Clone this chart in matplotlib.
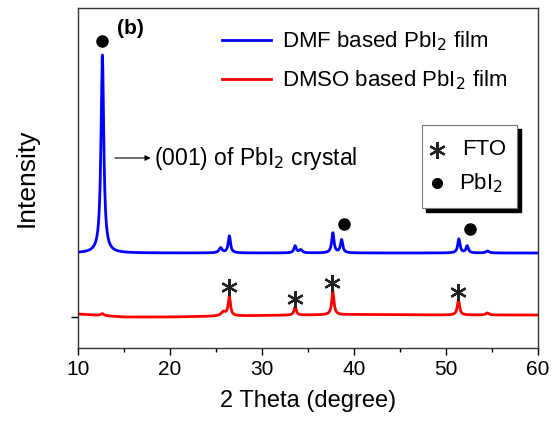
import numpy as np
import matplotlib
matplotlib.use("Agg")
import matplotlib.pyplot as plt
from matplotlib.patches import Rectangle

plt.rcParams['font.family'] = ['Liberation Sans', 'DejaVu Sans']

# Peak tables: (2theta position, height above baseline, half width)
dmf_peaks_pos = [12.65, 25.5, 26.45, 33.6, 34.2, 37.7, 38.65, 51.4, 52.3, 54.5]
dmf_peaks_h = [198, 5, 17, 7, 3, 20, 13, 14, 7, 2]
dmf_peaks_w = [0.18, 0.2, 0.15, 0.15, 0.2, 0.15, 0.15, 0.15, 0.15, 0.2]
dmf_offset = 95

dmso_peaks_pos = [12.65, 25.8, 26.45, 33.6, 37.7, 51.35, 54.5]
dmso_peaks_h = [2, 4, 19, 8, 23, 15, 2]
dmso_peaks_w = [0.2, 0.3, 0.15, 0.15, 0.15, 0.15, 0.2]
dmso_offset = 31

# Baseline levels read along 2theta for the DMSO curve
dmso_base_x = [10, 15, 20, 30, 40, 50, 60]
dmso_base_y = [3, 0, 0, 1.5, 2.5, 2, 2]

# Marker positions
fto_x = [26.4, 33.6, 37.6, 51.3]
fto_y = [61, 49, 65, 56]
pbi2_x = [12.65, 38.9, 52.6]
pbi2_y = [307, 124, 119]


def pattern(x, pos, h, w):
    y = np.zeros_like(x)
    for p, a, s in zip(pos, h, w):
        y += a / (1 + ((x - p) / s) ** 2)
    return y


x = np.linspace(10, 60, 3000)
dmf = dmf_offset + pattern(x, dmf_peaks_pos, dmf_peaks_h, dmf_peaks_w)
dmso = dmso_offset + np.interp(x, dmso_base_x, dmso_base_y) + \
    pattern(x, dmso_peaks_pos, dmso_peaks_h, dmso_peaks_w)

fig = plt.figure(figsize=(5.52, 4.23), dpi=100)
ax = fig.add_axes([78 / 552, 1 - 348 / 423, 460 / 552, 340 / 423])

ax.plot(x, dmf, color='#0000ff', lw=2, label='DMF based PbI$_2$ film')
ax.plot(x, dmso, color='#ff0000', lw=2, label='DMSO based PbI$_2$ film')

ax.plot(fto_x, fto_y, linestyle='none', marker=(6, 2, 0), ms=12,
        mew=1.6, color='#222222')
ax.plot(pbi2_x, pbi2_y, linestyle='none', marker='o', ms=8, color='black')

ax.set_xlim(10, 60)
ax.set_ylim(0, 340)
ax.set_xticks(range(10, 61, 10))
ax.set_xticks(range(15, 60, 10), minor=True)
ax.set_yticks([31])
ax.set_yticklabels([''])
ax.tick_params(axis='both', which='major', direction='out', length=5,
               labelsize=15, width=1)
ax.tick_params(axis='x', which='minor', direction='out', length=3, width=1)
for sp in ax.spines.values():
    sp.set_linewidth(1)
    sp.set_color('#333333')

ax.set_xlabel('2 Theta (degree)', fontsize=17, labelpad=8)
ax.set_ylabel('Intensity', fontsize=19, labelpad=20)

ax.text(0.085, 0.94, '(b)', transform=ax.transAxes, fontsize=15,
        fontweight='bold', va='center', ha='left')

leg = ax.legend(loc='upper left', bbox_to_anchor=(0.27, 0.995), frameon=False,
                fontsize=16, handlelength=2.2, handletextpad=0.5,
                labelspacing=0.68)

# Arrow pointing to the (001) reflection
ax.annotate('', xy=(13.7, 190), xytext=(18.2, 190),
            arrowprops=dict(arrowstyle='<|-', color='black', lw=0.8,
                            mutation_scale=8))
ax.text(18.3, 190, '(001) of PbI$_2$ crystal', fontsize=16.5, va='center',
        ha='left')

# Marker key box with drop shadow
bx0, bx1 = 47.4, 57.7
by0, by1 = 140, 223
shadow = Rectangle((bx0 + 0.4, by0 - 4), bx1 - bx0, by1 - by0,
                   facecolor='black', edgecolor='black', zorder=4)
box = Rectangle((bx0, by0), bx1 - bx0, by1 - by0, facecolor='white',
                edgecolor='#777777', lw=0.8, zorder=5)
ax.add_patch(shadow)
ax.add_patch(box)
ax.plot([49.0], [198], marker=(6, 2, 0), ms=12, mew=1.6, color='#222222',
        zorder=6)
ax.text(51.7, 198, 'FTO', fontsize=16, va='center', ha='left', zorder=6)
ax.plot([49.0], [165], marker='o', ms=7, color='black', zorder=6)
ax.text(51.4, 165, 'PbI$_2$', fontsize=16, va='center', ha='left',
        zorder=6)

fig.savefig('out.png', dpi=100)
